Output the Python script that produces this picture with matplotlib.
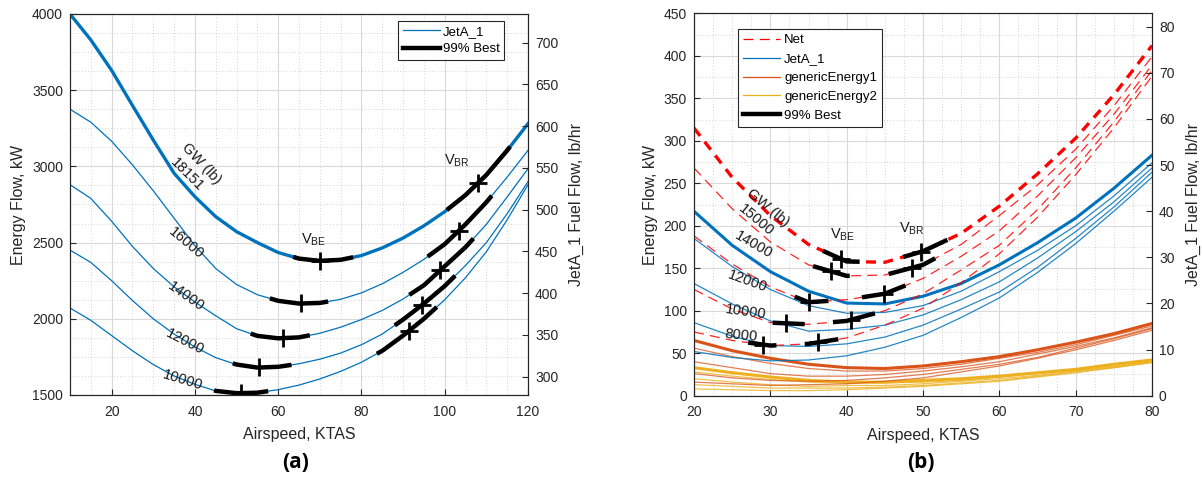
import numpy as np
import matplotlib
matplotlib.use('Agg')
import matplotlib.pyplot as plt
from matplotlib.ticker import MultipleLocator

plt.rcParams['font.family'] = ['Liberation Sans', 'DejaVu Sans']

BLUE = '#0072BD'
ORANGE = '#D95319'
YELLOW = '#EDB120'
RED = '#FF0000'
AX_COL = '#262626'

# ---------------- panel (a) data ----------------
spd_a = [10, 15, 20, 25, 30, 35, 40, 45, 50, 55, 60, 65, 70, 75, 80, 85, 90, 95, 100, 105, 110, 115, 120]
gw_a = [18151, 16000, 14000, 12000, 10000]
pwr_18151 = [4000, 3830, 3630, 3400, 3173, 2955, 2801, 2670, 2572, 2500, 2435, 2395, 2380, 2387, 2415, 2465,
             2530, 2610, 2703, 2812, 2944, 3105, 3280]
pwr_16000 = [3375, 3290, 3165, 3010, 2840, 2660, 2480, 2330, 2225, 2158, 2118, 2100, 2104, 2128, 2170, 2230,
             2305, 2390, 2490, 2620, 2765, 2930, 3105]
pwr_14000 = [2880, 2790, 2640, 2475, 2330, 2210, 2110, 2020, 1935, 1888, 1872, 1878, 1905, 1945, 1995, 2055,
             2130, 2220, 2345, 2470, 2620, 2800, 2985]
pwr_12000 = [2451, 2370, 2250, 2120, 2000, 1900, 1815, 1745, 1700, 1680, 1685, 1705, 1735, 1775, 1830, 1900,
             1995, 2100, 2215, 2350, 2500, 2690, 2900]
pwr_10000 = [2071, 1990, 1890, 1790, 1700, 1625, 1570, 1527, 1512, 1515, 1535, 1565, 1605, 1655, 1715, 1790,
             1890, 2000, 2125, 2270, 2440, 2650, 2880]
vbe_a = [70.0, 65.5, 61.1, 55.5, 51.1]
vbr_a = [107.9, 103.4, 98.9, 94.5, 91.3]
be_rng_a = [(63.6, 78.0), (58.0, 72.0), (53.4, 67.6), (49.1, 63.2), (44.6, 57.6)]
br_rng_a = [(100.5, 115.7), (95.9, 111.3), (91.5, 106.9), (88.0, 102.5), (83.7, 98.1)]

# ---------------- panel (b) data ----------------
spd_b = [20, 25, 30, 35, 40, 45, 50, 55, 60, 65, 70, 75, 80]
gw_b = [15000, 14000, 12000, 10000, 8000]
jet_15000 = [217, 177, 146, 123, 109, 108, 117, 132, 154, 180, 209, 244, 283]
jet_14000 = [185, 152, 125, 106, 97, 98, 106, 123, 146, 171, 200, 235, 274]
jet_12000 = [132, 108, 88, 76, 78, 83, 95, 113, 134, 162, 193, 228, 268]
jet_10000 = [86, 70, 59, 58, 61, 69, 83, 102, 122, 151, 185, 222, 263]
jet_8000 = [52, 45, 41, 42, 47, 57, 71, 92, 115, 145, 179, 217, 257]
net_15000 = [315, 257, 212, 178, 158, 157, 170, 191, 223, 261, 303, 354, 412]
net_14000 = [268, 220, 181, 154, 141, 142, 154, 178, 212, 248, 290, 341, 399]
net_12000 = [188, 155, 128, 110, 113, 120, 138, 164, 194, 235, 280, 331, 389]
net_10000 = [125, 102, 86, 84, 88, 100, 120, 148, 177, 219, 268, 322, 383]
net_8000 = [75, 65, 59, 61, 68, 83, 103, 133, 167, 210, 260, 315, 376]
gen1_15000 = [65, 53, 44, 37, 33, 32, 35, 40, 46, 54, 63, 73, 85]
gen1_14000 = [56, 46, 38, 32, 29, 29, 32, 37, 44, 51, 60, 71, 82]
gen1_12000 = [40, 33, 26, 23, 23, 25, 29, 34, 40, 49, 58, 68, 80]
gen1_10000 = [26, 21, 18, 17, 18, 21, 25, 31, 37, 45, 56, 67, 79]
gen1_8000 = [16, 14, 12, 13, 14, 17, 21, 28, 35, 44, 54, 65, 77]
gen2_15000 = [33, 27, 22, 18, 16, 16, 18, 20, 23, 27, 31, 37, 42]
gen2_14000 = [28, 23, 19, 16, 15, 15, 16, 18, 22, 26, 30, 35, 41]
gen2_12000 = [20, 16, 13, 11, 12, 12, 14, 17, 20, 24, 29, 34, 40]
gen2_10000 = [13, 11, 9, 9, 9, 10, 12, 15, 18, 23, 28, 33, 39]
gen2_8000 = [8, 7, 6, 6, 7, 9, 11, 14, 17, 22, 27, 33, 39]
vbe_b = [39.3, 38.0, 35.1, 32.1, 29.1]
vbr_b = [49.8, 48.5, 44.9, 40.6, 36.3]
be_rng_b = [(36.9, 41.7), (35.6, 40.4), (33.2, 37.6), (30.3, 34.5), (27.1, 30.8)]
br_rng_b = [(47.4, 53.2), (45.5, 51.6), (42.0, 47.7), (38.2, 43.7), (34.5, 38.9)]


def best_seg(ax, v, p, lo, hi):
    vv = np.linspace(lo, hi, 40)
    ax.plot(vv, np.interp(vv, v, p), color='k', lw=3.2, solid_capstyle='butt', zorder=5)


def best_mark(ax, v, p, vb):
    ax.plot([vb], [np.interp(vb, v, p)], marker='+', ms=13, mew=2.0, color='k', zorder=6)


def style_axes(ax, ax2):
    for a in (ax, ax2):
        for s in a.spines.values():
            s.set_color(AX_COL)
            s.set_linewidth(0.8)
        a.tick_params(direction='in', colors=AX_COL, labelsize=10, length=4, width=0.8, pad=5)
        a.tick_params(which='minor', length=0)
    ax.tick_params(axis='x', pad=7)
    ax.grid(True, which='major', color='#d9d9d9', lw=0.8)
    ax.grid(True, which='minor', color='#c8c8c8', lw=0.6, ls=(0, (1, 2.5)))
    ax.set_axisbelow(True)


fig = plt.figure(figsize=(12.02, 4.8), dpi=100)

# ================= panel (a) =================
ax = fig.add_axes([70 / 1202, 1 - 395 / 480, 458 / 1202, 381 / 480])
ax2 = ax.twinx()
curves_a = [pwr_18151, pwr_16000, pwr_14000, pwr_12000, pwr_10000]
for i, p in enumerate(curves_a):
    lw = 2.4 if i == 0 else 0.9
    ax.plot(spd_a, p, color=BLUE, lw=lw, zorder=3, label='JetA_1' if i == 1 else None)
    best_seg(ax, spd_a, p, *be_rng_a[i])
    best_seg(ax, spd_a, p, *br_rng_a[i])
    best_mark(ax, spd_a, p, vbe_a[i])
    best_mark(ax, spd_a, p, vbr_a[i])
ax.plot([], [], color='k', lw=3.2, label='99% Best')

ax.set_xlim(10, 120)
ax.set_ylim(1500, 4000)
ax.xaxis.set_major_locator(MultipleLocator(20))
ax.xaxis.set_minor_locator(MultipleLocator(5))
ax.yaxis.set_major_locator(MultipleLocator(500))
ax.yaxis.set_minor_locator(MultipleLocator(125))
ax2.set_ylim(278.1, 734.4)
ax2.yaxis.set_major_locator(MultipleLocator(50))
style_axes(ax, ax2)
ax.set_xlabel('Airspeed, KTAS', fontsize=11.5, color=AX_COL, labelpad=6)
ax.set_ylabel('Energy Flow, kW', fontsize=11.5, color=AX_COL, labelpad=4)
ax2.set_ylabel('JetA_1 Fuel Flow, lb/hr', fontsize=11.5, color=AX_COL, labelpad=8)

txt_kw = dict(fontsize=10.5, color='#1a1a1a', ha='center', va='center', zorder=7)
ax.text(41.6, 3020, 'GW (lb)', rotation=-47, **txt_kw)
ax.text(38.0, 2944, '18151', rotation=-45, **txt_kw)
ax.text(38.0, 2497, '16000', rotation=-40, **txt_kw)
ax.text(37.9, 2145, '14000', rotation=-35, **txt_kw)
ax.text(37.6, 1850, '12000', rotation=-27, **txt_kw)
ax.text(37.1, 1598, '10000', rotation=-17, **txt_kw)
ax.text(68.4, 2517, r'V$_\mathregular{BE}$', **txt_kw)
ax.text(102.9, 3035, r'V$_\mathregular{BR}$', **txt_kw)

leg = ax.legend(loc='upper right', bbox_to_anchor=(0.948, 0.982), fontsize=9.5, frameon=True,
                fancybox=False, framealpha=1, edgecolor=AX_COL, handlelength=2.8,
                borderpad=0.35, labelspacing=0.4, handletextpad=0.2, borderaxespad=0)
leg.get_frame().set_linewidth(0.8)
leg.set_zorder(10)

# ================= panel (b) =================
bx = fig.add_axes([694 / 1202, 1 - 395.7 / 480, 458 / 1202, 382.4 / 480])
bx2 = bx.twinx()
nets = [net_15000, net_14000, net_12000, net_10000, net_8000]
jets = [jet_15000, jet_14000, jet_12000, jet_10000, jet_8000]
gen1s = [gen1_15000, gen1_14000, gen1_12000, gen1_10000, gen1_8000]
gen2s = [gen2_15000, gen2_14000, gen2_12000, gen2_10000, gen2_8000]
for i in range(len(gw_b)):
    thick = i == 0
    lw = 2.2 if thick else 0.9
    bx.plot(spd_b, gen2s[i], color=YELLOW, lw=lw, zorder=3, alpha=1 if thick else 0.8)
    bx.plot(spd_b, gen1s[i], color=ORANGE, lw=lw, zorder=3, alpha=1 if thick else 0.75)
    bx.plot(spd_b, jets[i], color=BLUE, lw=lw, zorder=3, alpha=1 if thick else 0.85)
    bx.plot(spd_b, nets[i], color=RED, lw=2.4 if thick else 0.9, zorder=4,
            dashes=(3, 2.2) if thick else (8, 5), alpha=1 if thick else 0.85)
    best_seg(bx, spd_b, nets[i], *be_rng_b[i])
    best_seg(bx, spd_b, nets[i], *br_rng_b[i])
    best_mark(bx, spd_b, nets[i], vbe_b[i])
    best_mark(bx, spd_b, nets[i], vbr_b[i])

bx.plot([], [], color=RED, lw=0.9, dashes=(8, 5), label='Net')
bx.plot([], [], color=BLUE, lw=0.9, label='JetA_1')
bx.plot([], [], color=ORANGE, lw=0.9, label='genericEnergy1')
bx.plot([], [], color=YELLOW, lw=0.9, label='genericEnergy2')
bx.plot([], [], color='k', lw=3.2, label='99% Best')

bx.set_xlim(20, 80)
bx.set_ylim(0, 450)
bx.xaxis.set_major_locator(MultipleLocator(10))
bx.xaxis.set_minor_locator(MultipleLocator(2.5))
bx.yaxis.set_major_locator(MultipleLocator(50))
bx.yaxis.set_minor_locator(MultipleLocator(25))
bx2.set_ylim(0, 82.9)
bx2.yaxis.set_major_locator(MultipleLocator(10))
style_axes(bx, bx2)
bx.set_xlabel('Airspeed, KTAS', fontsize=11.5, color=AX_COL, labelpad=6)
bx.set_ylabel('Energy Flow, kW', fontsize=11.5, color=AX_COL, labelpad=4)
bx2.set_ylabel('JetA_1 Fuel Flow, lb/hr', fontsize=11.5, color=AX_COL, labelpad=8)

bx.text(29.7, 220.5, 'GW (lb)', rotation=-40, **txt_kw)
bx.text(28.1, 206.7, '15000', rotation=-40, **txt_kw)
bx.text(27.8, 177.3, '14000', rotation=-30, **txt_kw)
bx.text(27.0, 134.2, '12000', rotation=-20, **txt_kw)
bx.text(26.8, 98.8, '10000', rotation=-8, **txt_kw)
bx.text(26.2, 70.6, '8000', rotation=-5, **txt_kw)
bx.text(39.4, 190, r'V$_\mathregular{BE}$', **txt_kw)
bx.text(48.5, 197, r'V$_\mathregular{BR}$', **txt_kw)

leg = bx.legend(loc='upper left', bbox_to_anchor=(0.096, 0.959), fontsize=9.5, frameon=True,
                fancybox=False, framealpha=1, edgecolor=AX_COL, handlelength=2.8,
                borderpad=0.4, labelspacing=0.5, handletextpad=0.3, borderaxespad=0)
leg.get_frame().set_linewidth(0.8)
leg.set_zorder(10)

fig.text(296 / 1202, 1 - 463 / 480, '(a)', fontsize=15, fontweight='bold', ha='center', va='center',
         family=['Open Sans', 'DejaVu Sans'])
fig.text(921 / 1202, 1 - 463 / 480, '(b)', fontsize=15, fontweight='bold', ha='center', va='center',
         family=['Open Sans', 'DejaVu Sans'])

fig.savefig('out.png', dpi=100)
